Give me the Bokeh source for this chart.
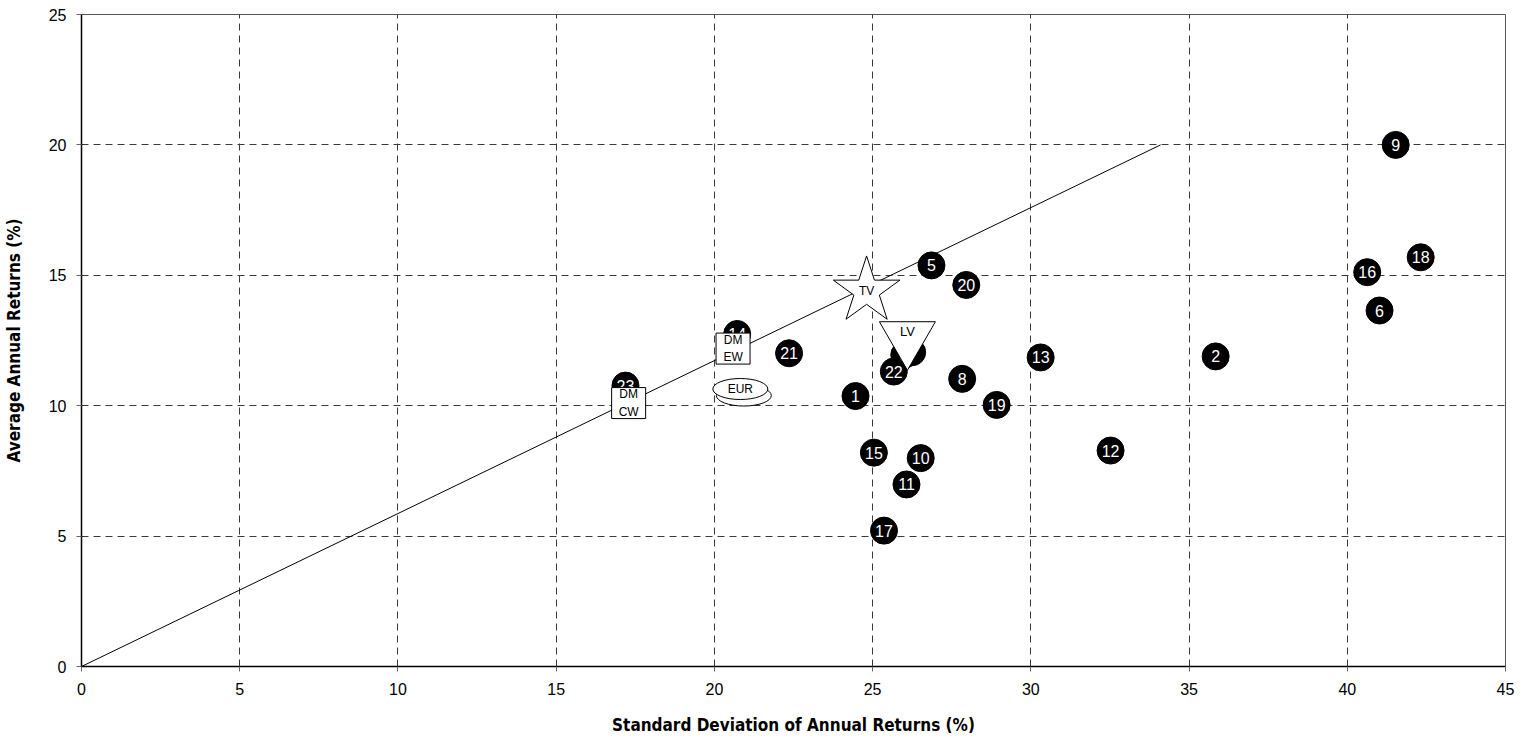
from bokeh.plotting import figure
from bokeh.models import Range1d, FixedTicker, ColumnDataSource
from bokeh.core.properties import value
from bokeh.embed import file_html
from bokeh.resources import INLINE

# numbered portfolios
pt_labels = ["14", "23", "3", "7", "1", "2", "5", "6", "8", "9", "10", "11", "12", "13",
             "15", "16", "17", "18", "19", "20", "21", "22"]
pt_sd = [20.72, 17.19, 26.00, 26.25, 24.46, 35.84, 26.86, 41.02, 27.83, 41.53, 26.52, 26.07, 32.52, 30.31,
         25.04, 40.63, 25.36, 42.32, 28.92, 27.96, 22.36, 25.67]
pt_ret = [12.75, 10.77, 11.95, 12.05, 10.37, 11.89, 15.38, 13.65, 11.03, 20.00, 7.99, 6.98, 8.28, 11.85,
          8.20, 15.12, 5.21, 15.69, 10.03, 14.63, 12.01, 11.31]

# benchmark portfolios
dm_labels = ["DM\nEW", "DM\nCW"]
dm_sd = [20.59, 17.29]
dm_ret = [12.19, 10.10]

eur_labels = ["", "EUR"]
eur_sd = [20.93, 20.82]
eur_ret = [10.39, 10.64]

tv_label = ["TV"]
tv_sd = [24.81]
tv_ret = [14.40]

lv_label = ["LV"]
lv_sd = [26.10]
lv_ret = [12.60]

# line
line_sd = [0, 34.1]
line_ret = [0, 20]

x_ticks = [0, 5, 10, 15, 20, 25, 30, 35, 40, 45]
y_ticks = [0, 5, 10, 15, 20, 25]

FONT = "'Liberation Sans', Arial, sans-serif"
NARROW = "'Liberation Sans Narrow', 'Arial Narrow', 'DejaVu Sans Condensed', sans-serif"

p = figure(frame_width=1424, frame_height=652, output_backend="svg", toolbar_location=None,
           x_range=Range1d(0, 45), y_range=Range1d(0, 25),
           min_border_left=73, min_border_right=14, min_border_top=14, min_border_bottom=58)
p.background_fill_color = "white"
p.border_fill_color = "white"
p.outline_line_color = "#555555"
p.outline_line_width = 1

for ax, ticks in ((p.xaxis, x_ticks), (p.yaxis, y_ticks)):
    ax.ticker = FixedTicker(ticks=ticks)
    ax.axis_line_color = "black"
    ax.axis_line_width = 1.5
    ax.major_tick_line_color = "#666666"
    ax.major_tick_out = 5
    ax.major_tick_in = 0
    ax.minor_tick_line_color = None
    ax.major_label_text_font = FONT
    ax.major_label_text_font_size = "16px"
    ax.major_label_text_color = "black"
    ax.axis_label_text_font = NARROW
    ax.axis_label_text_font_style = "bold"
    ax.axis_label_text_font_size = "17px"
    ax.axis_label_text_color = "black"

p.xaxis.axis_label = "Standard Deviation of Annual Returns (%)"
p.yaxis.axis_label = "Average Annual Returns (%)"
p.xaxis.major_label_standoff = 11
p.xaxis.axis_label_standoff = 17
p.yaxis.major_label_standoff = 10
p.yaxis.axis_label_standoff = 22

p.xgrid.ticker = FixedTicker(ticks=x_ticks)
p.ygrid.ticker = FixedTicker(ticks=y_ticks)
for g in (p.xgrid, p.ygrid):
    g.grid_line_color = "#3a3a3a"
    g.grid_line_dash = "7 5"
    g.grid_line_width = 1

p.line(line_sd, line_ret, line_color="black", line_width=1)

src = ColumnDataSource(dict(x=pt_sd, y=pt_ret, t=pt_labels))
p.scatter("x", "y", source=src, size=27, fill_color="black", line_color="black")
p.text("x", "y", text="t", source=src, text_color="white", text_align="center",
       text_baseline="middle", text_font=value("Liberation Sans"), text_font_size="16px")

# EUR ellipses
p.ellipse(eur_sd, eur_ret, width=55, height=21, width_units="screen", height_units="screen",
          fill_color="white", line_color="black", line_width=1)
p.text(eur_sd, eur_ret, text=eur_labels, text_align="center", text_baseline="middle",
       text_font=value("Liberation Sans"), text_font_size="12px", text_color="black")

# DM boxes
p.rect(dm_sd, dm_ret, width=34, height=31, width_units="screen", height_units="screen",
       fill_color="white", line_color="black", line_width=1)
p.text(dm_sd, dm_ret, text=dm_labels, text_align="center", text_baseline="middle",
       text_font=value("Liberation Sans"), text_font_size="12px", text_color="black",
       text_line_height=1.25)

# TV star
p.scatter(tv_sd, tv_ret, marker="star", size=70, fill_color="white", line_color="black", line_width=1)
p.text(tv_sd, tv_ret, text=tv_label, text_align="center", text_baseline="middle",
       text_font=value("Liberation Sans"), text_font_size="12px", text_color="black")

# LV triangle
p.scatter(lv_sd, lv_ret, marker="inverted_triangle", size=56, fill_color="white", line_color="black",
          line_width=1)
p.text(lv_sd, lv_ret, text=lv_label, text_align="center", text_baseline="middle", y_offset=-6,
       text_font=value("Liberation Sans"), text_font_size="13px", text_color="black")

open("out.html", "w").write(file_html(p, INLINE))
